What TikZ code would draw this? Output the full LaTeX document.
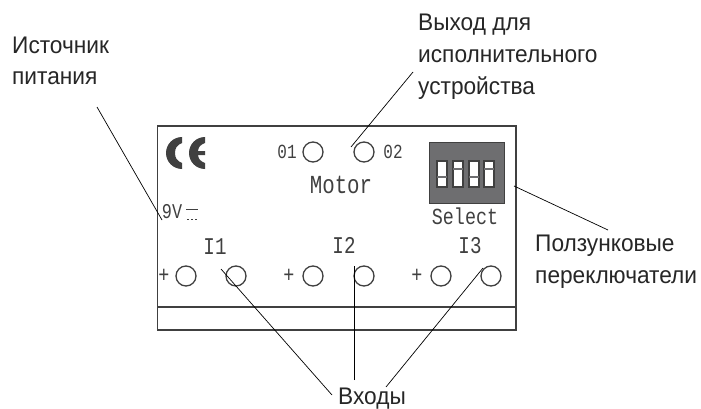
\documentclass[tikz,border=0pt]{standalone}
\usepackage{fontspec}
\setmainfont[FakeStretch=0.945]{Liberation Sans}
\setmonofont[FakeStretch=0.8]{Liberation Mono}
\definecolor{devgray}{HTML}{404040}
\definecolor{dipgray}{HTML}{6E6E70}
\tikzset{
  leader/.style={draw=black,line width=0.7pt},
  callout/.style={font=\fontsize{24}{32}\selectfont,text=black!85,align=left,inner sep=0pt},
  port/.style={draw=devgray,circle,line width=1.3pt,minimum size=20pt,inner sep=0pt},
  devtext/.style={font=\ttfamily\fontsize{23}{23}\selectfont,text=devgray,inner sep=0pt},
  dipcell/.style={draw=devgray,fill=white,line width=1.2pt},
  dipbar/.style={draw=dipgray,line width=2.5pt}
}
\begin{document}
\begin{tikzpicture}[x=1pt,y=-1pt]
  \useasboundingbox (0,0) rectangle (701,409);
  % housing
  \draw[draw=devgray,line width=1.3pt] (157.5,126) rectangle (516,330);
  \draw[draw=devgray,line width=1.3pt] (157.5,307) -- (516,307);
  % CE mark
  \fill[devgray] (182,137) arc (270:90:16) -- (182,163)
    .. controls (177,161) and (175,158) .. (175,153)
    .. controls (175,148) and (177,145) .. (182,143) -- cycle;
  \fill[devgray] (205,137) arc (270:90:16) -- (205,163)
    .. controls (200,161) and (198.5,159) .. (198,155) -- (205,155) -- (205,151) -- (198,151)
    .. controls (198.5,147) and (200,145) .. (205,143) -- cycle;
  % ports and printed texts
  \draw
    (313,152) node[port] (o1){}
    (364,152) node[port] (o2){}
    (186,276) node[port] (i1p){}
    (236,276) node[port] (i1n){}
    (313,276) node[port] (i2p){}
    (364,276) node[port] (i2n){}
    (441,276) node[port] (i3p){}
    (491,276) node[port] (i3n){}
    (287,152) node[devtext,font=\ttfamily\fontsize{20}{20}\selectfont] (o1text){01}
    (393,152) node[devtext,font=\ttfamily\fontsize{20}{20}\selectfont] (o2text){02}
    (341,185) node[devtext,font=\ttfamily\fontsize{26}{26}\selectfont] (motor){Motor}
    (465,216) node[devtext] (select){Select}
    (172,212) node[devtext,font=\ttfamily\fontsize{21}{21}\selectfont] (nine){9V}
    (215,247) node[devtext,font=\ttfamily\fontsize{24}{24}\selectfont] (i1){I1}
    (344,245) node[devtext,font=\ttfamily\fontsize{24}{24}\selectfont] (i2){I2}
    (470,246) node[devtext,font=\ttfamily\fontsize{24}{24}\selectfont] (i3){I3}
    (164,276) node[devtext] (i1plus){+}
    (289,276) node[devtext] (i2plus){+}
    (417,276) node[devtext] (i3plus){+};
  % DC symbol
  \draw[devgray,line width=0.8pt] (186,209) -- (198,209);
  \draw[devgray,line width=0.8pt,dash pattern=on 2pt off 2pt] (187,219) -- (198,219);
  % dip switch
  \fill[dipgray,draw=devgray,line width=1pt] (429,142) rectangle (504,203);
  \draw[dipcell] (437,161) rectangle (447,187);
  \draw[dipcell] (453,161) rectangle (463,187);
  \draw[dipcell] (469,161) rectangle (479,187);
  \draw[dipcell] (484,161) rectangle (494,187);
  \draw[dipbar] (437,177) -- (447,177);
  \draw[dipbar] (453,169) -- (463,169);
  \draw[dipbar] (469,177) -- (479,177);
  \draw[dipbar] (484,169) -- (494,169);
  % callouts
  \draw
    (12,85) node[callout,anchor=base west] (power){Источник\\питания}
    (418,95) node[callout,anchor=base west] (output){Выход для\\исполнительного\\устройства}
    (535,283) node[callout,anchor=base west] (slide){Ползунковые\\переключатели}
    (338,404) node[callout,anchor=base west] (inputs){Входы};
  \coordinate (powerend) at (97,107);
  \coordinate (powertip) at (162,220);
  \coordinate (outputend) at (413,72);
  \coordinate (outputtip) at (351,147);
  \coordinate (slideend) at (608,230);
  \coordinate (slidetip) at (514,186);
  \coordinate (inputsa) at (332,395);
  \coordinate (inputsb) at (354,380);
  \coordinate (inputsc) at (386,387);
  \coordinate (tipa) at (221,269);
  \coordinate (tipb) at (354,266);
  \coordinate (tipc) at (483,268);
  \begin{scope}[-]
    \draw[leader] (powerend) to (powertip);
    \draw[leader] (outputend) to (outputtip);
    \draw[leader] (slideend) to (slidetip);
    \draw[leader] (inputsa) to (tipa);
    \draw[leader] (inputsb) to (tipb);
    \draw[leader] (inputsc) to (tipc);
  \end{scope}
\end{tikzpicture}
\end{document}
